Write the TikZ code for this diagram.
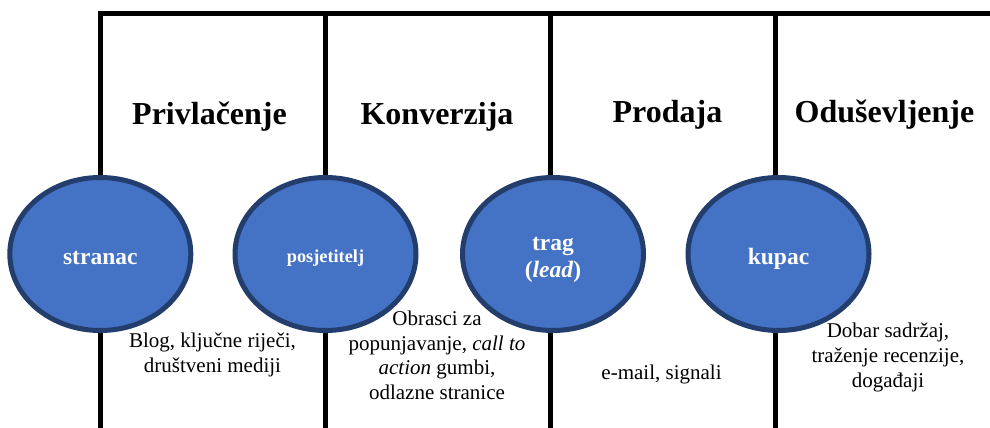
\documentclass[tikz,border=0pt]{standalone}
\usepackage{fontspec}
\setmainfont{Liberation Serif}
\usetikzlibrary{shapes.geometric}
\definecolor{fillblue}{HTML}{4472C4}
\definecolor{edgeblue}{HTML}{233D6C}
\tikzset{
  frame/.style={line width=5pt, black},
  stage/.style={ellipse, fill=fillblue, draw=edgeblue, line width=5pt,
    minimum width=181pt, minimum height=153pt, inner sep=0pt, text=white},
  stagetext/.style={font=\fontsize{23.5}{28}\selectfont\bfseries, text=white, align=center, inner sep=0pt},
  heading/.style={font=\fontsize{32}{36}\selectfont\bfseries, anchor=base, inner sep=0pt},
  bodytext/.style={font=\fontsize{21}{24.6}\selectfont, align=center, anchor=base, inner sep=0pt},
}
\begin{document}
\begin{tikzpicture}[x=1pt,y=-1pt]
\useasboundingbox (0,0) rectangle (990,428);
% frame
\coordinate (t1) at (100,14);
\coordinate (b1) at (100,432);
\coordinate (t2) at (325,14);
\coordinate (b2) at (325,432);
\coordinate (t3) at (550,14);
\coordinate (b3) at (550,432);
\coordinate (t4) at (775,14);
\coordinate (b4) at (775,432);
\coordinate (tr) at (995,14);
\draw[frame] (b1) -- (t1) -- (tr);
\draw[frame] (t2) -- (b2);
\draw[frame] (t3) -- (b3);
\draw[frame] (t4) -- (b4);
% headings
\node[heading] (h1) at (209.5,124) {Privlačenje};
\node[heading] (h2) at (437,124) {Konverzija};
\node[heading] (h3) at (667.5,122) {Prodaja};
\node[heading] (h4) at (884.5,122) {Oduševljenje};
% ellipses
\node[stage] (e1) at (100.3,254) {};
\node[stage] (e2) at (325.5,254) {};
\node[stage] (e3) at (553,254) {};
\node[stage] (e4) at (778.5,254) {};
\node[stagetext, anchor=base] (s1) at (100.3,264) {stranac};
\node[stagetext, anchor=base, font=\fontsize{18.3}{22}\selectfont\bfseries] (s2) at (325.5,262) {posjetitelj};
\node[stagetext, anchor=base] (s3a) at (553,250) {trag};
\node[stagetext, anchor=base] (s3b) at (553,277) {(\textit{lead})};
\node[stagetext, anchor=base] (s4) at (778.5,264) {kupac};
% body texts (base anchor = baseline of last line)
\node[bodytext] (d1) at (212.5,372) {Blog, ključne riječi,\\društveni mediji};
\node[bodytext] (d2) at (437,399.5) {Obrasci za\\popunjavanje, \textit{call to}\\\textit{action} gumbi,\\odlazne stranice};
\node[bodytext] (d3) at (661.5,379) {e-mail, signali};
\node[bodytext] (d4) at (888,387) {Dobar sadržaj,\\traženje recenzije,\\događaji};
\end{tikzpicture}
\end{document}
